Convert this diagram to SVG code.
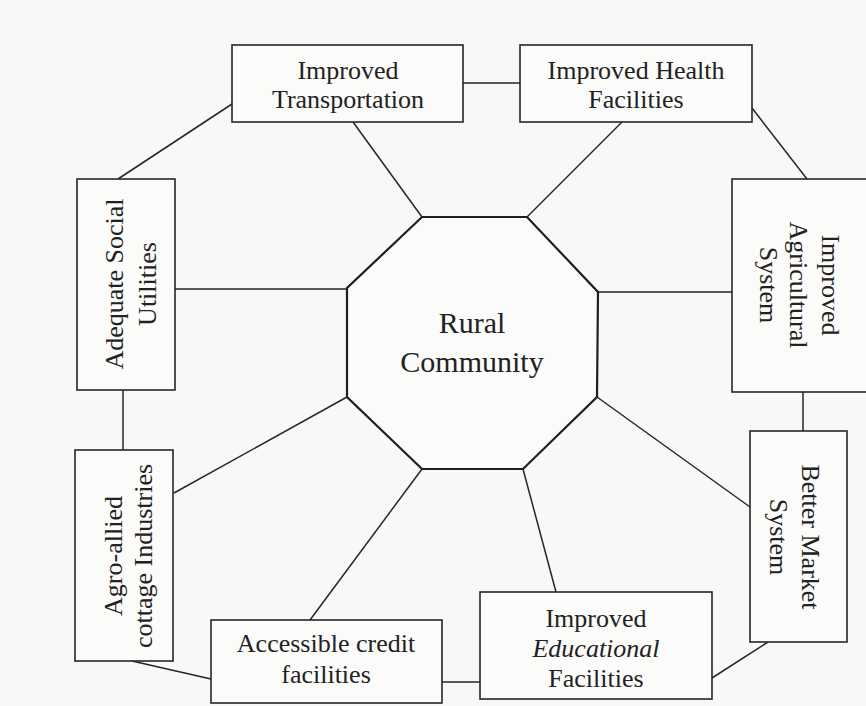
<svg xmlns="http://www.w3.org/2000/svg" width="866" height="706" viewBox="0 0 866 706">
  <style>
    .bg { fill: #f8f8f6; }
    .box { fill: #fbfbfa; stroke: #262626; stroke-width: 1.6; }
    .hub { fill: #fbfbfa; stroke: #1e1e1e; stroke-width: 2.2; }
    .link { fill: none; stroke: #262626; stroke-width: 1.5; }
    .lbl { font-family: "Liberation Serif", "Times New Roman", serif; font-size: 26px; fill: #222; text-anchor: middle; }
    .hubtxt { font-family: "Liberation Serif", "Times New Roman", serif; font-size: 30px; fill: #222; text-anchor: middle; }
  </style>

  <rect class="bg" x="0" y="0" width="866" height="706"/>

  <!-- connectors -->
  <g id="connectors">
    <line class="link" x1="463" y1="83" x2="520" y2="83"/>
    <line class="link" x1="118" y1="179" x2="232" y2="104"/>
    <line class="link" x1="353" y1="122" x2="422" y2="217"/>
    <line class="link" x1="622" y1="122" x2="527" y2="217"/>
    <line class="link" x1="752" y1="108" x2="807" y2="179"/>
    <line class="link" x1="175" y1="289" x2="347" y2="289"/>
    <line class="link" x1="598" y1="292" x2="732" y2="292"/>
    <line class="link" x1="803" y1="392" x2="803" y2="431"/>
    <line class="link" x1="123" y1="390" x2="123" y2="450"/>
    <line class="link" x1="347" y1="397" x2="174" y2="493"/>
    <line class="link" x1="422" y1="469" x2="310" y2="620"/>
    <line class="link" x1="523" y1="469" x2="556" y2="592"/>
    <line class="link" x1="597" y1="397" x2="750" y2="507"/>
    <line class="link" x1="132" y1="661" x2="211" y2="679"/>
    <line class="link" x1="442" y1="682" x2="480" y2="682"/>
    <line class="link" x1="712" y1="678" x2="768" y2="642"/>
  </g>

  <!-- central hub -->
  <g id="rural-community">
    <polygon class="hub" points="422,217 527,217 598,292 597,397 523,469 422,469 347,397 347,288"/>
    <text class="hubtxt" x="472" y="333">Rural</text>
    <text class="hubtxt" x="472" y="372">Community</text>
  </g>

  <g id="improved-transportation">
    <rect class="box" x="232" y="45" width="231" height="77"/>
    <text class="lbl" x="348" y="79">Improved</text>
    <text class="lbl" x="348" y="108">Transportation</text>
  </g>

  <g id="improved-health">
    <rect class="box" x="520" y="45" width="232" height="77"/>
    <text class="lbl" x="636" y="79">Improved Health</text>
    <text class="lbl" x="636" y="108">Facilities</text>
  </g>

  <g id="adequate-social">
    <rect class="box" x="77" y="179" width="98" height="211"/>
    <g transform="translate(126 284) rotate(-90)">
      <text class="lbl" x="0" y="-3">Adequate Social</text>
      <text class="lbl" x="0" y="30">Utilities</text>
    </g>
  </g>

  <g id="improved-agricultural">
    <rect class="box" x="732" y="179" width="140" height="213"/>
    <g transform="translate(801 285) rotate(90)">
      <text class="lbl" x="0" y="-21">Improved</text>
      <text class="lbl" x="0" y="11">Agricultural</text>
      <text class="lbl" x="0" y="41">System</text>
    </g>
  </g>

  <g id="agro-allied">
    <rect class="box" x="75" y="450" width="98" height="211"/>
    <g transform="translate(124 556) rotate(-90)">
      <text class="lbl" x="0" y="-2">Agro-allied</text>
      <text class="lbl" x="0" y="28">cottage Industries</text>
    </g>
  </g>

  <g id="better-market">
    <rect class="box" x="750" y="431" width="97" height="211"/>
    <g transform="translate(797 537) rotate(90)">
      <text class="lbl" x="0" y="-5">Better Market</text>
      <text class="lbl" x="0" y="27">System</text>
    </g>
  </g>

  <g id="accessible-credit">
    <rect class="box" x="211" y="620" width="231" height="83"/>
    <text class="lbl" x="326" y="652">Accessible credit</text>
    <text class="lbl" x="326" y="683">facilities</text>
  </g>

  <g id="improved-educational">
    <rect class="box" x="480" y="592" width="232" height="107"/>
    <text class="lbl" x="596" y="627">Improved</text>
    <text class="lbl" x="596" y="657" font-style="italic">Educational</text>
    <text class="lbl" x="596" y="687">Facilities</text>
  </g>
</svg>
